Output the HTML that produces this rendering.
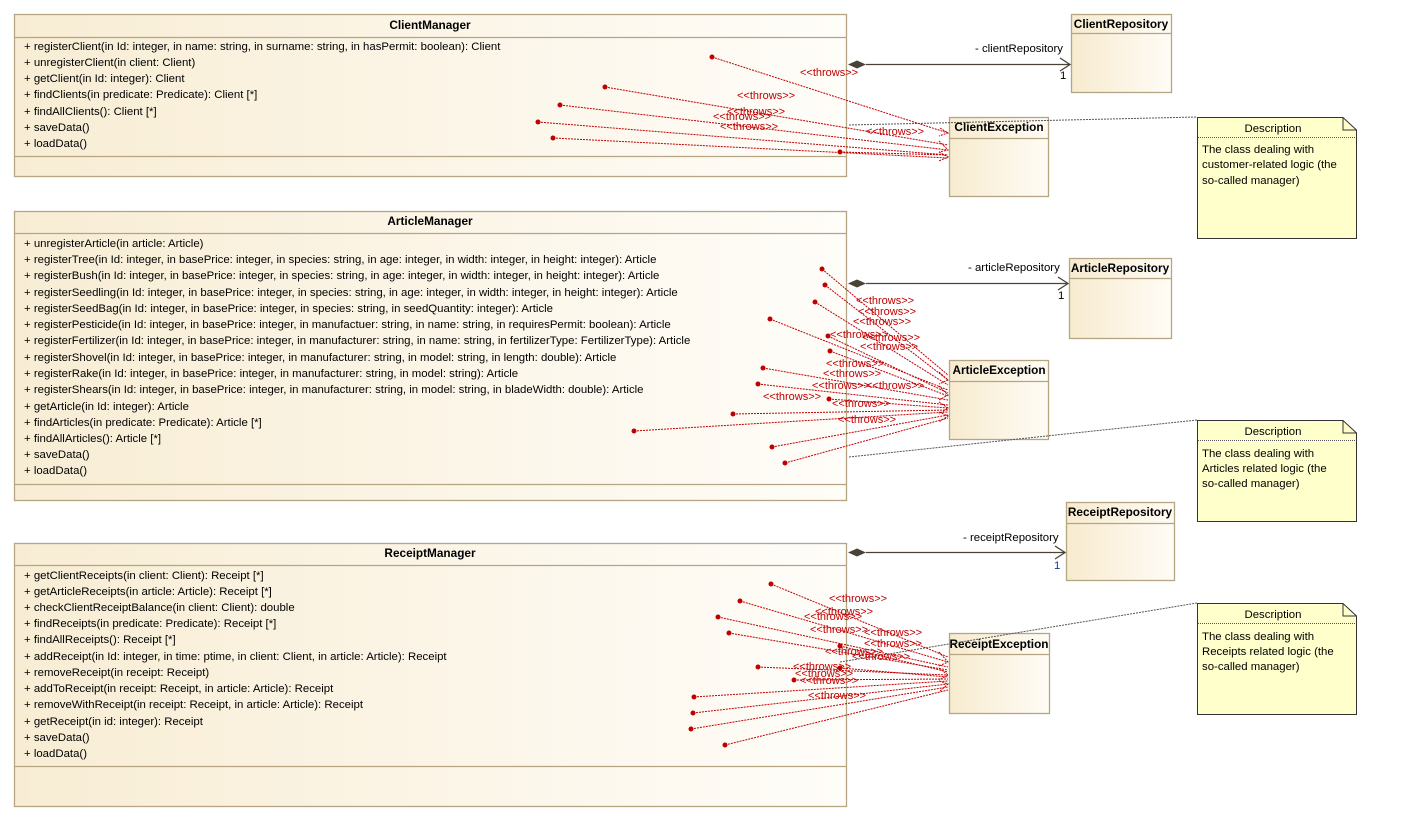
<!DOCTYPE html>
<html><head><meta charset="utf-8"><style>
html,body{margin:0;padding:0;background:#fff;}
svg{display:block;font-family:"Liberation Sans",Arial,sans-serif;}
.m{font-size:11.4px;fill:#000;}
.h{font-size:11.8px;font-weight:bold;fill:#000;}
.t{font-size:11px;fill:#c00000;}
.th{stroke:#c00000;stroke-width:1;stroke-dasharray:2,1;fill:none;}
.d{fill:#c00000;}
.box{stroke:#b5a583;stroke-width:1.3;}
</style></head><body>
<svg width="1402" height="828" viewBox="0 0 1402 828" xmlns="http://www.w3.org/2000/svg">
<defs>
<linearGradient id="g" x1="0" y1="0" x2="1" y2="0"><stop offset="0" stop-color="#f8edd4"/><stop offset="1" stop-color="#fffdf9"/></linearGradient>
<linearGradient id="g2" x1="0" y1="0" x2="1" y2="0"><stop offset="0" stop-color="#f7ebcf"/><stop offset="1" stop-color="#fffcf6"/></linearGradient>
</defs>

<rect class="box" x="14.5" y="14.5" width="832" height="162" fill="url(#g)"/>
<line class="box" x1="14" y1="37.5" x2="847" y2="37.5"/>
<line class="box" x1="14" y1="156.5" x2="847" y2="156.5"/>
<text class="h" x="430" y="29" text-anchor="middle">ClientManager</text>
<g class="m">
<text x="24" y="50">+ registerClient(in Id: integer, in name: string, in surname: string, in hasPermit: boolean): Client</text>
<text x="24" y="66">+ unregisterClient(in client: Client)</text>
<text x="24" y="82">+ getClient(in Id: integer): Client</text>
<text x="24" y="98">+ findClients(in predicate: Predicate): Client [*]</text>
<text x="24" y="115">+ findAllClients(): Client [*]</text>
<text x="24" y="131">+ saveData()</text>
<text x="24" y="147">+ loadData()</text>
</g>

<rect class="box" x="14.5" y="211.5" width="832" height="289" fill="url(#g)"/>
<line class="box" x1="14" y1="233.5" x2="847" y2="233.5"/>
<line class="box" x1="14" y1="484.5" x2="847" y2="484.5"/>
<text class="h" x="430" y="225" text-anchor="middle">ArticleManager</text>
<g class="m">
<text x="24" y="247">+ unregisterArticle(in article: Article)</text>
<text x="24" y="263">+ registerTree(in Id: integer, in basePrice: integer, in species: string, in age: integer, in width: integer, in height: integer): Article</text>
<text x="24" y="279">+ registerBush(in Id: integer, in basePrice: integer, in species: string, in age: integer, in width: integer, in height: integer): Article</text>
<text x="24" y="296">+ registerSeedling(in Id: integer, in basePrice: integer, in species: string, in age: integer, in width: integer, in height: integer): Article</text>
<text x="24" y="312">+ registerSeedBag(in Id: integer, in basePrice: integer, in species: string, in seedQuantity: integer): Article</text>
<text x="24" y="328">+ registerPesticide(in Id: integer, in basePrice: integer, in manufactuer: string, in name: string, in requiresPermit: boolean): Article</text>
<text x="24" y="344">+ registerFertilizer(in Id: integer, in basePrice: integer, in manufacturer: string, in name: string, in fertilizerType: FertilizerType): Article</text>
<text x="24" y="361">+ registerShovel(in Id: integer, in basePrice: integer, in manufacturer: string, in model: string, in length: double): Article</text>
<text x="24" y="377">+ registerRake(in Id: integer, in basePrice: integer, in manufacturer: string, in model: string): Article</text>
<text x="24" y="393">+ registerShears(in Id: integer, in basePrice: integer, in manufacturer: string, in model: string, in bladeWidth: double): Article</text>
<text x="24" y="410">+ getArticle(in Id: integer): Article</text>
<text x="24" y="426">+ findArticles(in predicate: Predicate): Article [*]</text>
<text x="24" y="442">+ findAllArticles(): Article [*]</text>
<text x="24" y="458">+ saveData()</text>
<text x="24" y="474">+ loadData()</text>
</g>

<rect class="box" x="14.5" y="543.5" width="832" height="263" fill="url(#g)"/>
<line class="box" x1="14" y1="565.5" x2="847" y2="565.5"/>
<line class="box" x1="14" y1="766.5" x2="847" y2="766.5"/>
<text class="h" x="430" y="557" text-anchor="middle">ReceiptManager</text>
<g class="m">
<text x="24" y="579">+ getClientReceipts(in client: Client): Receipt [*]</text>
<text x="24" y="595">+ getArticleReceipts(in article: Article): Receipt [*]</text>
<text x="24" y="611">+ checkClientReceiptBalance(in client: Client): double</text>
<text x="24" y="627">+ findReceipts(in predicate: Predicate): Receipt [*]</text>
<text x="24" y="643">+ findAllReceipts(): Receipt [*]</text>
<text x="24" y="660">+ addReceipt(in Id: integer, in time: ptime, in client: Client, in article: Article): Receipt</text>
<text x="24" y="676">+ removeReceipt(in receipt: Receipt)</text>
<text x="24" y="692">+ addToReceipt(in receipt: Receipt, in article: Article): Receipt</text>
<text x="24" y="708">+ removeWithReceipt(in receipt: Receipt, in article: Article): Receipt</text>
<text x="24" y="725">+ getReceipt(in id: integer): Receipt</text>
<text x="24" y="741">+ saveData()</text>
<text x="24" y="757">+ loadData()</text>
</g>

<g>
<rect class="box" x="1071.5" y="14.5" width="100" height="78" fill="url(#g2)"/><line class="box" x1="1071" y1="33.5" x2="1172" y2="33.5"/>
<text class="h" x="1121" y="28" text-anchor="middle">ClientRepository</text>
<rect class="box" x="949.5" y="117.5" width="99" height="79" fill="url(#g2)"/><line class="box" x1="949" y1="138.5" x2="1049" y2="138.5"/>
<text class="h" x="999" y="131" text-anchor="middle">ClientException</text>
<rect class="box" x="1069.5" y="258.5" width="102" height="80" fill="url(#g2)"/><line class="box" x1="1069" y1="278.5" x2="1172" y2="278.5"/>
<text class="h" x="1120" y="272" text-anchor="middle">ArticleRepository</text>
<rect class="box" x="949.5" y="360.5" width="99" height="79" fill="url(#g2)"/><line class="box" x1="949" y1="381.5" x2="1049" y2="381.5"/>
<text class="h" x="999" y="374" text-anchor="middle">ArticleException</text>
<rect class="box" x="1066.5" y="502.5" width="108" height="78" fill="url(#g2)"/><line class="box" x1="1066" y1="523.5" x2="1175" y2="523.5"/>
<text class="h" x="1120" y="516" text-anchor="middle">ReceiptRepository</text>
<rect class="box" x="949.5" y="633.5" width="100" height="80" fill="url(#g2)"/><line class="box" x1="949" y1="654.5" x2="1050" y2="654.5"/>
<text class="h" x="999" y="648" text-anchor="middle">ReceiptException</text>
</g>

<g stroke="#4a4236" stroke-width="1.3" fill="none">
<line x1="866" y1="64.5" x2="1070" y2="64.5"/><polyline points="1060,58 1070,64.5 1060,71"/>
<line x1="866" y1="283.5" x2="1068" y2="283.5"/><polyline points="1058,277 1068,283.5 1058,290"/>
<line x1="866" y1="552.5" x2="1065" y2="552.5"/><polyline points="1055,546 1065,552.5 1055,559"/>
</g>
<g fill="#4a4236">
<polygon points="848,64.5 857,60.5 866,64.5 857,68.5"/>
<polygon points="848,283.5 857,279.5 866,283.5 857,287.5"/>
<polygon points="848,552.5 857,548.5 866,552.5 857,556.5"/>
</g>
<g class="m">
<text x="975" y="52">- clientRepository</text><text x="1060" y="79">1</text>
<text x="968" y="271">- articleRepository</text><text x="1058" y="299">1</text>
<text x="963" y="541">- receiptRepository</text><text x="1054" y="569" fill="#1a3a8c">1</text>
</g>

<g stroke="#555" stroke-width="1" stroke-dasharray="2,1" fill="none">
<line x1="849" y1="125" x2="1197" y2="117"/>
<line x1="849" y1="457" x2="1197" y2="420"/>
<line x1="840" y1="662" x2="1197" y2="603"/>
</g>
<g>
<path d="M1197.5,117.5 H1343 L1356.5,130 V238.5 H1197.5 Z" fill="#ffffcc" stroke="#333"/>
<path d="M1343,117.5 V130 H1356.5" fill="none" stroke="#333"/>
<line x1="1198" y1="137.5" x2="1356" y2="137.5" stroke="#555" stroke-dasharray="1,1"/>
<text class="m" x="1273" y="132" text-anchor="middle">Description</text>
<text class="m" x="1202" y="153">The class dealing with</text>
<text class="m" x="1202" y="168">customer-related logic (the</text>
<text class="m" x="1202" y="184">so-called manager)</text>

<path d="M1197.5,420.5 H1343 L1356.5,433 V521.5 H1197.5 Z" fill="#ffffcc" stroke="#333"/>
<path d="M1343,420.5 V433 H1356.5" fill="none" stroke="#333"/>
<line x1="1198" y1="440.5" x2="1356" y2="440.5" stroke="#555" stroke-dasharray="1,1"/>
<text class="m" x="1273" y="435" text-anchor="middle">Description</text>
<text class="m" x="1202" y="457">The class dealing with</text>
<text class="m" x="1202" y="472">Articles related logic (the</text>
<text class="m" x="1202" y="487">so-called manager)</text>

<path d="M1197.5,603.5 H1343 L1356.5,616 V714.5 H1197.5 Z" fill="#ffffcc" stroke="#333"/>
<path d="M1343,603.5 V616 H1356.5" fill="none" stroke="#333"/>
<line x1="1198" y1="623.5" x2="1356" y2="623.5" stroke="#555" stroke-dasharray="1,1"/>
<text class="m" x="1273" y="618" text-anchor="middle">Description</text>
<text class="m" x="1202" y="640">The class dealing with</text>
<text class="m" x="1202" y="655">Receipts  related logic (the</text>
<text class="m" x="1202" y="670">so-called manager)</text>
</g>

<g class="th">
<line x1="712" y1="57" x2="948" y2="133"/>
<line x1="605" y1="87" x2="948" y2="145"/>
<line x1="560" y1="105" x2="948" y2="150"/>
<line x1="538" y1="122" x2="948" y2="155"/>
<line x1="553" y1="138" x2="948" y2="158"/>
<line x1="840" y1="152" x2="948" y2="155"/>
<line x1="822" y1="269" x2="948" y2="375"/>
<line x1="825" y1="285" x2="948" y2="380"/>
<line x1="815" y1="302" x2="948" y2="385"/>
<line x1="770" y1="319" x2="948" y2="390"/>
<line x1="828" y1="336" x2="948" y2="393"/>
<line x1="830" y1="351" x2="948" y2="396"/>
<line x1="763" y1="368" x2="948" y2="400"/>
<line x1="758" y1="384" x2="948" y2="405"/>
<line x1="829" y1="399" x2="948" y2="408"/>
<line x1="733" y1="414" x2="948" y2="410"/>
<line x1="634" y1="431" x2="948" y2="412"/>
<line x1="772" y1="447" x2="948" y2="415"/>
<line x1="785" y1="463" x2="948" y2="418"/>
<line x1="771" y1="584" x2="948" y2="657"/>
<line x1="740" y1="601" x2="948" y2="662"/>
<line x1="718" y1="617" x2="948" y2="667"/>
<line x1="729" y1="633" x2="948" y2="670"/>
<line x1="840" y1="646" x2="948" y2="672"/>
<line x1="758" y1="667" x2="948" y2="675"/>
<line x1="840" y1="668" x2="948" y2="677"/>
<line x1="794" y1="680" x2="948" y2="679"/>
<line x1="694" y1="697" x2="948" y2="681"/>
<line x1="693" y1="713" x2="948" y2="684"/>
<line x1="691" y1="729" x2="948" y2="687"/>
<line x1="725" y1="745" x2="948" y2="690"/>
</g>
<g class="d">
<circle cx="712" cy="57" r="2.5"/><circle cx="605" cy="87" r="2.5"/><circle cx="560" cy="105" r="2.5"/><circle cx="538" cy="122" r="2.5"/><circle cx="553" cy="138" r="2.5"/><circle cx="840" cy="152" r="2.5"/>
<circle cx="822" cy="269" r="2.5"/><circle cx="825" cy="285" r="2.5"/><circle cx="815" cy="302" r="2.5"/><circle cx="770" cy="319" r="2.5"/><circle cx="828" cy="336" r="2.5"/><circle cx="830" cy="351" r="2.5"/><circle cx="763" cy="368" r="2.5"/><circle cx="758" cy="384" r="2.5"/><circle cx="829" cy="399" r="2.5"/><circle cx="733" cy="414" r="2.5"/><circle cx="634" cy="431" r="2.5"/><circle cx="772" cy="447" r="2.5"/><circle cx="785" cy="463" r="2.5"/>
<circle cx="771" cy="584" r="2.5"/><circle cx="740" cy="601" r="2.5"/><circle cx="718" cy="617" r="2.5"/><circle cx="729" cy="633" r="2.5"/><circle cx="840" cy="646" r="2.5"/><circle cx="758" cy="667" r="2.5"/><circle cx="840" cy="668" r="2.5"/><circle cx="794" cy="680" r="2.5"/><circle cx="694" cy="697" r="2.5"/><circle cx="693" cy="713" r="2.5"/><circle cx="691" cy="729" r="2.5"/><circle cx="725" cy="745" r="2.5"/>
</g>
<g class="th">
<polyline points="940,128 948,133 939,136"/><polyline points="939,141 948,150 939,152"/><polyline points="939,152 948,157 939,161"/>
<polyline points="939,372 948,380 939,384"/><polyline points="939,386 948,395 939,400"/><polyline points="939,402 948,408 939,414"/><polyline points="939,412 948,416 939,422"/>
<polyline points="939,652 948,662 939,666"/><polyline points="939,668 948,675 939,680"/><polyline points="939,681 948,684 939,692"/>
</g>
<g class="t">
<text x="800" y="76">&lt;&lt;throws&gt;&gt;</text>
<text x="737" y="99">&lt;&lt;throws&gt;&gt;</text>
<text x="727" y="115">&lt;&lt;throws&gt;&gt;</text>
<text x="713" y="120">&lt;&lt;throws&gt;&gt;</text>
<text x="720" y="130">&lt;&lt;throws&gt;&gt;</text>
<text x="866" y="135">&lt;&lt;throws&gt;&gt;</text>

<text x="856" y="304">&lt;&lt;throws&gt;&gt;</text>
<text x="858" y="315">&lt;&lt;throws&gt;&gt;</text>
<text x="853" y="325">&lt;&lt;throws&gt;&gt;</text>
<text x="830" y="338">&lt;&lt;throws&gt;&gt;</text>
<text x="862" y="341">&lt;&lt;throws&gt;&gt;</text>
<text x="860" y="350">&lt;&lt;throws&gt;&gt;</text>
<text x="826" y="367">&lt;&lt;throws&gt;&gt;</text>
<text x="823" y="377">&lt;&lt;throws&gt;&gt;</text>
<text x="812" y="389">&lt;&lt;throws&gt;&gt;</text>
<text x="866" y="389">&lt;&lt;throws&gt;&gt;</text>
<text x="763" y="400">&lt;&lt;throws&gt;&gt;</text>
<text x="832" y="407">&lt;&lt;throws&gt;&gt;</text>
<text x="838" y="423">&lt;&lt;throws&gt;&gt;</text>

<text x="829" y="602">&lt;&lt;throws&gt;&gt;</text>
<text x="815" y="615">&lt;&lt;throws&gt;&gt;</text>
<text x="804" y="620">&lt;&lt;throws&gt;&gt;</text>
<text x="810" y="633">&lt;&lt;throws&gt;&gt;</text>
<text x="864" y="636">&lt;&lt;throws&gt;&gt;</text>
<text x="864" y="647">&lt;&lt;throws&gt;&gt;</text>
<text x="825" y="655">&lt;&lt;throws&gt;&gt;</text>
<text x="852" y="660">&lt;&lt;throws&gt;&gt;</text>
<text x="793" y="670">&lt;&lt;throws&gt;&gt;</text>
<text x="795" y="677">&lt;&lt;throws&gt;&gt;</text>
<text x="800" y="684">&lt;&lt;throws&gt;&gt;</text>
<text x="808" y="699">&lt;&lt;throws&gt;&gt;</text>
</g>
</svg>
</body></html>
